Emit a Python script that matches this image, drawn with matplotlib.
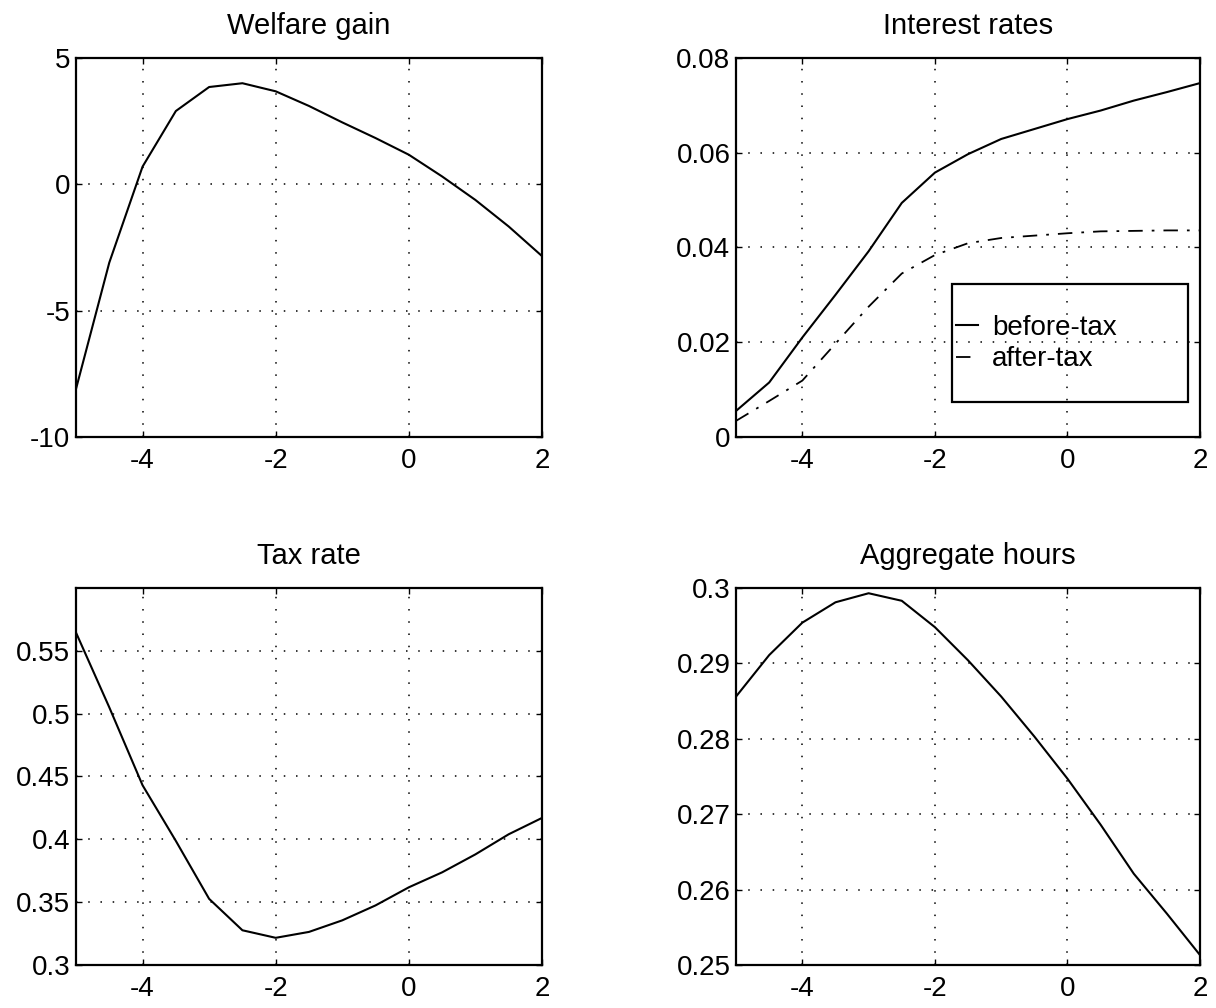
import matplotlib
matplotlib.use("Agg")
import matplotlib.pyplot as plt
from matplotlib.patches import Rectangle

plt.rcParams['font.family'] = ['Liberation Sans', 'DejaVu Sans']

# shared horizontal grid
x = [-5, -4.5, -4, -3.5, -3, -2.5, -2, -1.5, -1, -0.5, 0, 0.5, 1, 1.5, 2]

welfare = [-8.1, -3.1, 0.7, 2.9, 3.85, 4.0, 3.68, 3.1, 2.45, 1.83, 1.17, 0.31, -0.62, -1.67, -2.84]
before_tax = [0.0055, 0.0115, 0.021, 0.030, 0.0392, 0.0494, 0.0558, 0.0597, 0.0629, 0.065, 0.0671,
              0.0689, 0.071, 0.0728, 0.0747]
after_tax = [0.0034, 0.0076, 0.0119, 0.0197, 0.0275, 0.0345, 0.0384, 0.0409, 0.042, 0.0425, 0.043,
             0.0434, 0.0435, 0.0436, 0.0436]
tax_rate = [0.5645, 0.505, 0.443, 0.3987, 0.3526, 0.3276, 0.3216, 0.3263, 0.3355, 0.3474, 0.3618,
            0.3737, 0.388, 0.404, 0.417]
hours = [0.2856, 0.2911, 0.2954, 0.2981, 0.2993, 0.2983, 0.2948, 0.2904, 0.2856, 0.2803, 0.2747,
         0.2686, 0.2621, 0.2568, 0.2513]

xticks = [-4, -2, 0, 2]

fig = plt.figure(figsize=(12.16, 10.08), dpi=100)
pos = {
    'tl': [0.0625, 0.5665, 0.3832, 0.376],
    'tr': [0.6053, 0.5665, 0.3816, 0.376],
    'bl': [0.0625, 0.0427, 0.3832, 0.374],
    'br': [0.6053, 0.0427, 0.3816, 0.374],
}


def style(ax, title, ylim, yticks, ylabels):
    ax.set_xlim(-5, 2)
    ax.set_ylim(*ylim)
    ax.set_xticks(xticks)
    ax.set_xticklabels([str(t) for t in xticks])
    ax.set_yticks(yticks)
    ax.set_yticklabels(ylabels)
    ax.tick_params(direction='in', top=True, right=True, labelsize=20, length=4, width=1)
    ax.tick_params(axis='x', pad=8)
    ax.tick_params(axis='y', pad=4)
    ax.grid(True, color='black', linestyle=(0, (1, 7)), linewidth=1.1)
    for s in ax.spines.values():
        s.set_linewidth(1.6)
    ax.set_title(title, fontsize=21, pad=17)


ax1 = fig.add_axes(pos['tl'])
ax1.plot(x, welfare, color='black', lw=1.5)
style(ax1, 'Welfare gain', (-10, 5), [-10, -5, 0, 5], ['-10', '-5', '0', '5'])

ax2 = fig.add_axes(pos['tr'])
ax2.plot(x, before_tax, color='black', lw=1.5, label='before-tax')
ax2.plot(x, after_tax, color='black', lw=1.3, linestyle=(0, (8, 5, 1.5, 5)), label='after-tax')
style(ax2, 'Interest rates', (0, 0.08), [0, 0.02, 0.04, 0.06, 0.08],
      ['0', '0.02', '0.04', '0.06', '0.08'])
ax2.legend(loc='center left', bbox_to_anchor=(0.474, 0.2467), fontsize=20, frameon=False,
           handlelength=0.8, handletextpad=0.5, borderpad=0, borderaxespad=0, labelspacing=0.2)
ax2.add_patch(Rectangle((0.4655, 0.093), 0.5085, 0.31, transform=ax2.transAxes,
                        fill=False, edgecolor='black', lw=1.6, zorder=4))

ax3 = fig.add_axes(pos['bl'])
ax3.plot(x, tax_rate, color='black', lw=1.5)
style(ax3, 'Tax rate', (0.3, 0.6), [0.3, 0.35, 0.4, 0.45, 0.5, 0.55],
      ['0.3', '0.35', '0.4', '0.45', '0.5', '0.55'])

ax4 = fig.add_axes(pos['br'])
ax4.plot(x, hours, color='black', lw=1.5)
style(ax4, 'Aggregate hours', (0.25, 0.3), [0.25, 0.26, 0.27, 0.28, 0.29, 0.3],
      ['0.25', '0.26', '0.27', '0.28', '0.29', '0.3'])

fig.savefig('out.png', dpi=100)
